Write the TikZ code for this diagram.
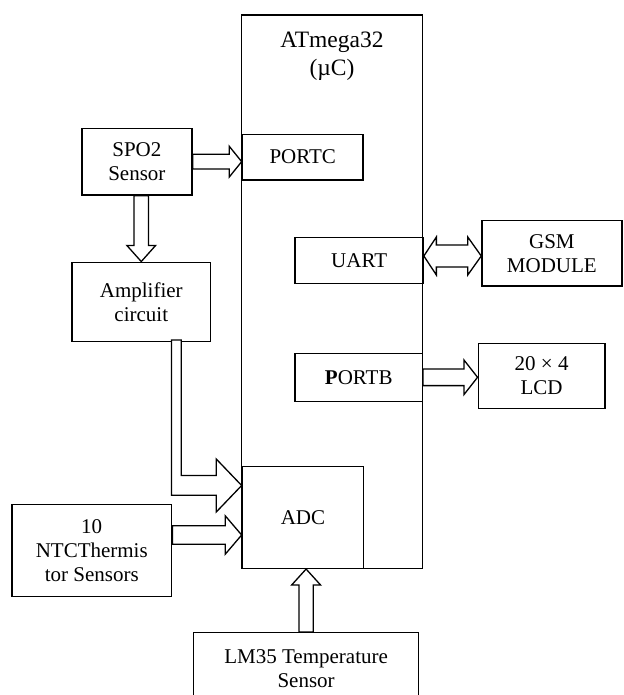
\documentclass[tikz,border=0pt]{standalone}
\usepackage{fontspec}
\setmainfont{Liberation Serif}
\usetikzlibrary{calc}
\newcommand\harrowR[5]{\draw[blk] ($(#1)+(0,-#3)$) -- ($(#2)+(-#5,-#3)$) -- ($(#2)+(-#5,-#4)$) -- (#2) -- ($(#2)+(-#5,#4)$) -- ($(#2)+(-#5,#3)$) -- ($(#1)+(0,#3)$) -- cycle;}
\newcommand\varrowU[5]{\draw[blk] ($(#1)+(-#3,0)$) -- ($(#2)+(-#3,#5)$) -- ($(#2)+(-#4,#5)$) -- (#2) -- ($(#2)+(#4,#5)$) -- ($(#2)+(#3,#5)$) -- ($(#1)+(#3,0)$) -- cycle;}
\newcommand\varrowD[5]{\draw[blk] ($(#1)+(-#3,0)$) -- ($(#2)+(-#3,-#5)$) -- ($(#2)+(-#4,-#5)$) -- (#2) -- ($(#2)+(#4,-#5)$) -- ($(#2)+(#3,-#5)$) -- ($(#1)+(#3,0)$) -- cycle;}
\begin{document}
\begin{tikzpicture}[x=1pt,y=-1pt,
  box/.style={draw, line width=1.5pt, inner sep=0pt, align=center, font=\fontsize{21}{24}\selectfont},
  blk/.style={draw, line width=1.3pt, fill=white, line join=miter}]
\useasboundingbox (0,0) rectangle (623,695);
\fill[white] (0,0) rectangle (623,695);
% boxes
\node[box, minimum width=180.7pt, minimum height=553.3pt] (main) at (331.95,291.65) {};
\node[font=\fontsize{23.5}{28.3}\selectfont, align=center, inner sep=0pt] (atm) at (332,56) {ATmega32\\(µC)};
\node[box, minimum width=110.1pt, minimum height=66.7pt] (spo2) at (136.85,161.65) {SPO2\\Sensor};
\node[box, minimum width=120.7pt, minimum height=45.7pt] (portc) at (302.75,157.15) {PORTC};
\node[box, minimum width=138.7pt, minimum height=79.4pt] (amp) at (141.25,302) {Amplifier\\circuit};
\node[box, minimum width=127.9pt, minimum height=46.4pt] (uart) at (359.15,260.5) {UART};
\node[box, minimum width=139.8pt, minimum height=65.3pt] (gsm) at (551.9,253.35) {GSM\\MODULE};
\node[box, minimum width=127.1pt, minimum height=48pt] (portb) at (358.75,377.3) {{\bfseries P}ORTB};
\node[box, minimum width=126.7pt, minimum height=65pt] (lcd) at (541.65,375.8) {20 × 4\\LCD};
\node[box, minimum width=121.1pt, minimum height=101.6pt] (adc) at (302.95,517.5) {ADC};
\node[box, minimum width=159.7pt, minimum height=92.4pt] (ntc) at (91.75,550.5) {10\\NTCThermis\\tor Sensors};
\node[box, minimum width=225.2pt, minimum height=72.3pt] (lm35) at (306.1,668.85) {LM35 Temperature\\Sensor};
% arrows
\coordinate (a1t) at (spo2.east -| portc.west);
\harrowR{spo2.east}{a1t}{7.3}{15.5}{12.5}
\coordinate (a2s) at (spo2.south -| amp.north);
\varrowD{a2s}{amp.north}{7.3}{14.3}{16}
\coordinate (dl) at ($(uart.east)+(0,-4.5)$);
\coordinate (dr) at (dl -| gsm.west);
\draw[blk] (dl) -- ($(dl)+(12.5,-19)$) -- ($(dl)+(12.5,-11)$) -- ($(dr)+(-13.5,-11)$) -- ($(dr)+(-13.5,-19)$) -- (dr) -- ($(dr)+(-13.5,19)$) -- ($(dr)+(-13.5,11)$) -- ($(dl)+(12.5,11)$) -- ($(dl)+(12.5,19)$) -- cycle;
\coordinate (a4t) at (portb.east -| lcd.west);
\harrowR{portb.east}{a4t}{8.3}{17.2}{13.5}
\coordinate (s5) at ($(amp.south east)+(-35,-2.5)$);
\coordinate (t5) at ($(adc.west)+(0,-32)$);
\coordinate (c5) at (s5 |- t5);
\draw[blk] ($(s5)+(-4.9,0)$) -- ($(s5)+(4.9,0)$) -- ($(c5)+(4.9,-10)$) -- ($(t5)+(-25.5,-10)$) -- ($(t5)+(-25.5,-26.6)$) -- (t5) -- ($(t5)+(-25.5,26.6)$) -- ($(t5)+(-25.5,9.8)$) -- ($(c5)+(-4.9,9.8)$) -- cycle;
\coordinate (a6s) at ($(ntc.east)+(0,-15.5)$);
\coordinate (a6t) at (a6s -| adc.west);
\harrowR{a6s}{a6t}{9.3}{19.3}{16.5}
\coordinate (a7t) at (lm35.north |- adc.south);
\varrowU{lm35.north}{a7t}{7.2}{14.5}{16}
\end{tikzpicture}
\end{document}
